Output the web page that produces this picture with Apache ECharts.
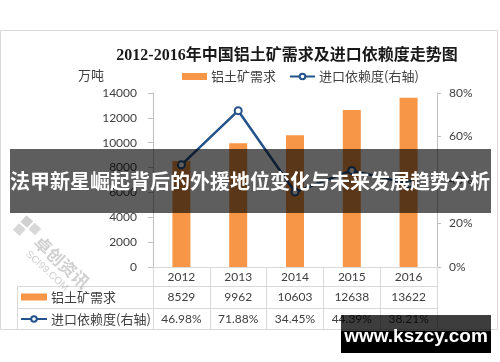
<!DOCTYPE html>
<html>
<head>
<meta charset="utf-8">
<script src="https://cdn.jsdelivr.net/npm/echarts@6/dist/echarts.min.js"></script>
<style>
html,body{margin:0;padding:0;background:#fff;}
#c{width:500px;height:362px;}
</style>
</head>
<body>
<div id="c"></div>
<script>
const title = '2012-2016年中国铝土矿需求及进口依赖度走势图';
const unitLabel = '万吨';
const years = ['2012', '2013', '2014', '2015', '2016'];
const demand = [8529, 9962, 10603, 12638, 13622];
const importDep = [46.98, 71.88, 34.45, 44.39, 38.21];
const seriesNames = ['铝土矿需求', '进口依赖度(右轴)'];
const bannerText = '法甲新星崛起背后的外援地位变化与未来发展趋势分析';
const siteText = 'www.kszcy.com';

const chart = echarts.init(document.getElementById('c'), null, {renderer: 'canvas'});

const G = {left: 153, right: 437, top: 93, bottom: 267};
const cjk = '"Noto Sans CJK SC", sans-serif';
const num = 'Lato, "Noto Sans CJK SC", sans-serif';
const orange = '#F79646';
const blue = '#24528A';
const gridLine = '#D9D9D9';

const option = {
  animation: false,
  backgroundColor: '#fff',
  title: {
    text: title,
    left: 282, top: 43, textAlign: 'center',
    textStyle: {fontFamily: '"Liberation Serif", "Noto Sans CJK SC", serif', fontSize: 16, fontWeight: 'bold', color: '#1a1a1a'}
  },
  legend: [{
    left: 182, top: 70, padding: 0, itemGap: 13, itemWidth: 25, itemHeight: 7,
    selectedMode: false,
    textStyle: {fontFamily: cjk, fontSize: 13, color: '#404040', padding: [0, 0, 0, -1]},
    data: [{name: seriesNames[0], icon: 'rect'}, {name: seriesNames[1]}]
  }, {
    orient: 'vertical', left: 20, top: 289, padding: 0, itemGap: 6, itemWidth: 26, itemHeight: 7,
    selectedMode: false,
    textStyle: {fontFamily: cjk, fontSize: 13, lineHeight: 16, color: '#404040', padding: [0, 0, 0, -1]},
    data: [{name: seriesNames[0], icon: 'rect'}, {name: seriesNames[1]}]
  }],
  grid: {left: G.left, right: 500 - G.right, top: G.top, bottom: 362 - G.bottom, containLabel: false},
  xAxis: {
    type: 'category', data: years, boundaryGap: true,
    axisLine: {show: true, lineStyle: {color: gridLine, width: 1}},
    axisTick: {show: true, interval: 0, length: 62, lineStyle: {color: gridLine}},
    axisLabel: {
      margin: 0, interval: 0,
      formatter: function (v, i) {
        return '{y|' + v + '}\n{v|' + demand[i] + '}\n{p|' + importDep[i].toFixed(2) + '%}';
      },
      rich: {
        y: {fontFamily: num, fontSize: 12, color: '#404040', lineHeight: 20},
        v: {fontFamily: num, fontSize: 12, color: '#404040', lineHeight: 20},
        p: {fontFamily: num, fontSize: 12, color: '#404040', lineHeight: 24}
      }
    }
  },
  yAxis: [{
    type: 'value', min: 0, max: 14000, interval: 2000,
    axisLine: {show: true, lineStyle: {color: '#BFBFBF'}},
    axisTick: {show: true, length: 5, lineStyle: {color: '#BFBFBF'}},
    splitLine: {show: false},
    axisLabel: {margin: 16, fontFamily: num, fontSize: 12, color: '#404040', formatter: function (v) { return String(v); }}
  }, {
    type: 'value', min: 0, max: 80, interval: 20, position: 'right',
    axisLine: {show: true, lineStyle: {color: '#BFBFBF'}},
    axisTick: {show: true, length: 4, lineStyle: {color: '#BFBFBF'}},
    splitLine: {show: false},
    axisLabel: {margin: 12, fontFamily: num, fontSize: 12, color: '#404040', formatter: '{value}%'}
  }],
  series: [{
    name: seriesNames[0], type: 'bar', data: demand, barWidth: 18,
    itemStyle: {color: orange}
  }, {
    name: seriesNames[1], type: 'line', yAxisIndex: 1, data: importDep,
    symbol: 'emptyCircle', symbolSize: 7,
    lineStyle: {color: blue, width: 2.5},
    itemStyle: {color: blue, borderColor: blue, borderWidth: 1.5},
    z: 3
  }],
  graphic: [
    {type: 'rect', z: -1, shape: {x: 0.5, y: 30.5, width: 497, height: 299}, style: {fill: 'none', stroke: gridLine, lineWidth: 1}},
    {type: 'text', left: 78, top: 69, style: {text: unitLabel, fontFamily: cjk, fontSize: 13, fill: '#404040'}},
    {type: 'line', shape: {x1: 17, y1: G.bottom + 19.5, x2: G.right, y2: G.bottom + 19.5}, style: {stroke: gridLine, lineWidth: 1}},
    {type: 'line', shape: {x1: 17, y1: G.bottom + 41.5, x2: G.right, y2: G.bottom + 41.5}, style: {stroke: gridLine, lineWidth: 1}},
    {type: 'line', shape: {x1: 17.5, y1: G.bottom + 19.5, x2: 17.5, y2: G.bottom + 62}, style: {stroke: gridLine, lineWidth: 1}},
    {type: 'group', x: 30, y: 232, rotation: -Math.PI / 4.2, z: 50, children: [
      {type: 'rect', shape: {x: -14, y: -10, width: 9, height: 9}, style: {fill: '#d0d0d0'}},
      {type: 'rect', shape: {x: -3, y: -10, width: 9, height: 9}, style: {fill: '#d8d8d8'}},
      {type: 'rect', shape: {x: -14, y: 1, width: 9, height: 9}, style: {fill: '#d8d8d8'}},
      {type: 'text', x: 10, y: -8, style: {text: '卓创资讯', fontFamily: cjk, fontSize: 17, fontWeight: 'bold', fill: 'rgba(170,170,170,0.55)'}},
      {type: 'text', x: 12, y: 12, style: {text: 'SCI99.COM', fontFamily: 'Liberation Sans, sans-serif', fontSize: 10, fill: 'rgba(170,170,170,0.55)'}}
    ]},
    {type: 'rect', z: 100, shape: {x: 10, y: 149, width: 481, height: 64}, style: {fill: 'rgba(0,0,0,0.63)'}},
    {type: 'text', z: 101, x: 250, y: 181, style: {text: bannerText, fontFamily: cjk, fontSize: 20, fontWeight: 'bold', fill: '#fff', align: 'center', verticalAlign: 'middle'}},
    {type: 'rect', z: 100, shape: {x: 341, y: 315, width: 150, height: 16}, style: {fill: 'rgba(0,0,0,0.76)'}},
    {type: 'rect', z: 100, shape: {x: 341, y: 331, width: 150, height: 22}, style: {fill: '#000'}},
    {type: 'text', z: 101, x: 416, y: 337, style: {text: siteText, fontFamily: 'Liberation Sans, sans-serif', fontSize: 19, fontWeight: 'bold', fill: '#fff', align: 'center', verticalAlign: 'middle'}}
  ]
};
chart.setOption(option);
</script>
</body>
</html>
